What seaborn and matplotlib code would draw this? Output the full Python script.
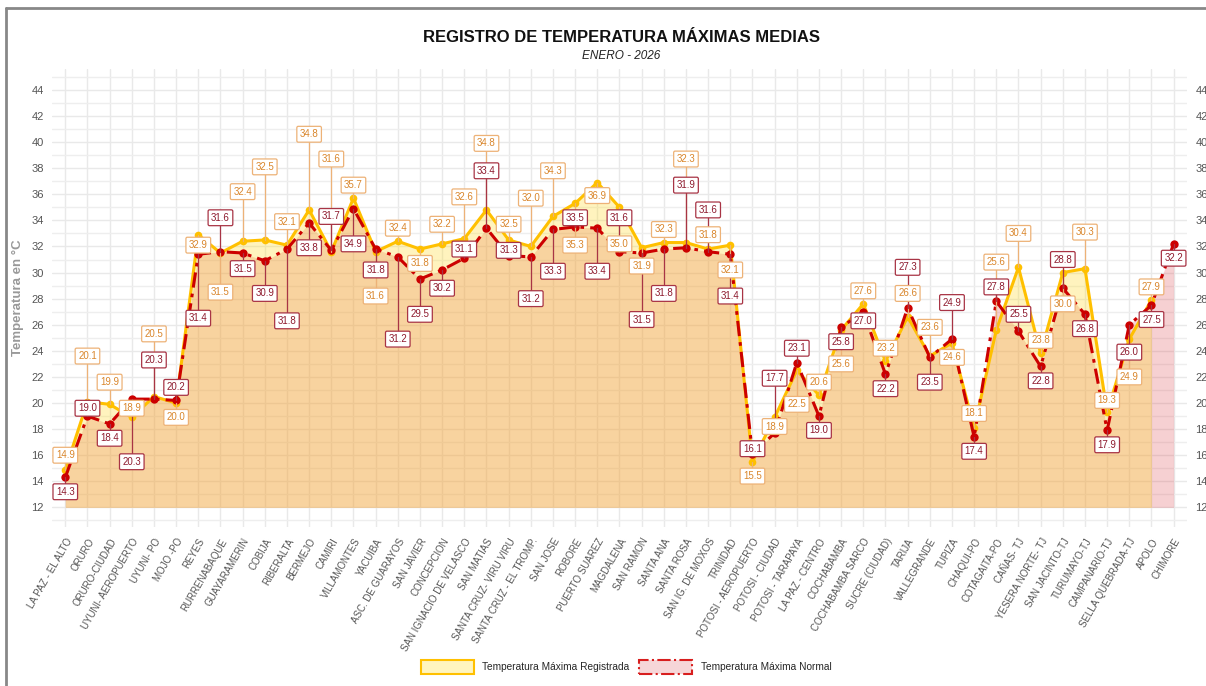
import numpy as np
import matplotlib
matplotlib.use("Agg")
import matplotlib.pyplot as plt
from matplotlib.lines import Line2D
from matplotlib.patches import Patch
from matplotlib.ticker import MultipleLocator
import seaborn as sns

# --- DATA ---
stations = [
    "LA PAZ - EL ALTO", "ORURO", "ORURO-CIUDAD", "UYUNI- AEROPUERTO", "UYUNI- PO",
    "MOJO -PO", "REYES", "RURRENABAQUE", "GUAYARAMERIN", "COBIJA", "RIBERALTA",
    "BERMEJO", "CAMIRI", "VILLAMONTES", "YACUIBA", "ASC. DE GUARAYOS", "SAN JAVIER",
    "CONCEPCION", "SAN IGNACIO DE VELASCO", "SAN MATIAS", "SANTA CRUZ- VIRU VIRU",
    "SANTA CRUZ - EL TROMP.", "SAN JOSE", "ROBORE", "PUERTO SUAREZ", "MAGDALENA",
    "SAN RAMON", "SANTA ANA", "SANTA ROSA", "SAN IG. DE MOXOS", "TRINIDAD",
    "POTOSI - AEROPUERTO", "POTOSI - CIUDAD", "POTOSI - TARAPAYA", "LA PAZ - CENTRO",
    "COCHABAMBA", "COCHABAMBA SARCO", "SUCRE (CIUDAD)", "TARIJA", "VALLEGRANDE",
    "TUPIZA", "CHAQUI-PO", "COTAGAITA-PO", "CAÑAS- TJ", "YESERA NORTE- TJ",
    "SAN JACINTO-TJ", "TURUMAYO-TJ", "CAMPANARIO-TJ", "SELLA QUEBRADA-TJ", "APOLO",
    "CHIMORE",
]
registrada = [
    14.9, 20.1, 19.9, 18.9, 20.5, 20.0, 32.9, 31.5, 32.4, 32.5, 32.1, 34.8, 31.6,
    35.7, 31.6, 32.4, 31.8, 32.2, 32.6, 34.8, 32.5, 32.0, 34.3, 35.3, 36.9, 35.0,
    31.9, 32.3, 32.3, 31.8, 32.1, 15.5, 18.9, 22.5, 20.6, 25.6, 27.6, 23.2, 26.6,
    23.6, 24.6, 18.1, 25.6, 30.4, 23.8, 30.0, 30.3, 19.3, 24.9, 27.9, np.nan,
]
normal = [
    14.3, 19.0, 18.4, 20.3, 20.3, 20.2, 31.4, 31.6, 31.5, 30.9, 31.8, 33.8, 31.7,
    34.9, 31.8, 31.2, 29.5, 30.2, 31.1, 33.4, 31.3, 31.2, 33.3, 33.5, 33.4, 31.6,
    31.5, 31.8, 31.9, 31.6, 31.4, 16.1, 17.7, 23.1, 19.0, 25.8, 27.0, 22.2, 27.3,
    23.5, 24.9, 17.4, 27.8, 25.5, 22.8, 28.8, 26.8, 17.9, 26.0, 27.5, 32.2,
]

# label placement (offset from the point, in degrees)
off_reg = [
    1.1, 3.5, 1.7, 0.7, 4.8, -1.1, -0.8, -3.0, 3.8, 5.6, 1.8, 5.8, 7.1, 1.0, -3.4,
    1.0, -1.1, 1.5, 3.2, 5.1, 1.2, 3.7, 3.5, -3.2, -1.0, -2.8, -1.4, 1.0, 6.4, 1.1,
    -1.9, -1.1, -0.7, -2.6, 1.0, -2.6, 1.0, 1.0, 1.8, 2.2, -1.1, 1.1, 5.2, 2.6,
    1.0, -2.4, 2.8, 0.9, -2.9, 1.0, 0.0,
]
off_norm = [
    -1.1, 0.6, -1.1, -4.8, 3.0, 1.0, -4.9, 2.6, -1.2, -2.5, -5.5, -1.9, 2.6, -2.7,
    -1.6, -6.3, -2.7, -1.4, 0.7, 4.4, 0.4, -3.2, -3.2, 0.7, -3.3, 2.6, -5.1, -3.4,
    4.8, 3.2, -3.2, 0.4, 4.2, 1.1, -1.1, -1.1, -0.7, -1.1, 3.1, -1.9, 2.8, -1.1,
    1.1, 1.3, -1.1, 2.2, -1.1, -1.1, -2.1, -1.1, -1.1,
]

# --- STYLE ---
sns.set_theme(style="whitegrid")
plt.rcParams["font.family"] = ["Liberation Sans", "DejaVu Sans"]

GOLD = "#FFC000"
RED = "#CC0000"
x = np.arange(len(stations))
reg = np.array(registrada, dtype=float)
nor = np.array(normal, dtype=float)

fig = plt.figure(figsize=(12.06, 6.86), dpi=100)
ax = fig.add_axes([0.0431, 0.2318, 0.9411, 0.6676])

# areas
ax.fill_between(x, 12, nor, color=(0.86, 0.24, 0.27), alpha=0.24, lw=0, zorder=1)
ax.fill_between(x, 12, reg, color=(1.0, 0.86, 0.18), alpha=0.31, lw=0, zorder=1.1)

# lines
sns.lineplot(x=x, y=reg, ax=ax, color=GOLD, lw=2.2, marker="o", markersize=5.5,
             markeredgewidth=0, zorder=3)
sns.lineplot(x=x, y=nor, ax=ax, color=RED, lw=2.2, marker="o", markersize=6,
             markeredgewidth=0, linestyle=(0, (5, 2, 1.2, 2)), zorder=3.2)

# value labels with leader lines
def put_labels(vals, offs, txt_col, edge_col):
    for xi, v, o in zip(x, vals, offs):
        if np.isnan(v):
            continue
        ly = v + o
        ax.plot([xi, xi], [v, ly], color=edge_col, lw=0.9, zorder=4)
        ax.text(xi, ly, f"{v:.1f}", ha="center", va="center", fontsize=7,
                color=txt_col, zorder=6,
                bbox=dict(boxstyle="round,pad=0.3,rounding_size=0.15",
                          fc="white", ec=edge_col, lw=0.9))

put_labels(reg, off_reg, "#D9862C", "#EDB277")
put_labels(nor, off_norm, "#8E1B2E", "#A83445")

# axes
ax.set_xlim(-0.6, len(stations) - 0.4)
ax.set_ylim(10.5, 45.6)
ax.set_xticks(x)
ax.set_xticklabels(stations, rotation=60, ha="right", rotation_mode="anchor",
                   fontsize=7, color="#555555")
ax.yaxis.set_major_locator(MultipleLocator(2))
ax.yaxis.set_minor_locator(MultipleLocator(1))
ax.set_yticks(np.arange(12, 45, 2))
ax.tick_params(axis="y", labelsize=8, labelcolor="#555555", labelright=True,
               length=0, pad=6)
ax.tick_params(axis="x", length=0, pad=7)
ax.grid(True, which="major", color="#e9e9e9", lw=1)
ax.grid(True, which="minor", axis="y", color="#eeeeee", lw=1)
ax.set_axisbelow(True)
for s in ax.spines.values():
    s.set_visible(False)
ax.set_xlabel("")
ax.set_ylabel("")

fig.text(0.0149, 0.566, "Temperatura en °C", rotation=90, ha="center",
         va="center", fontsize=9.5, color="#999999", fontweight="bold")

# titles
fig.text(0.515, 1 - 38 / 686, "REGISTRO DE TEMPERATURA MÁXIMAS MEDIAS",
         ha="center", va="center", fontsize=12, fontweight="bold", color="#111111")
fig.text(0.515, 1 - 56 / 686, "ENERO - 2026", ha="center", va="center",
         fontsize=8.5, style="italic", color="#222222")

# legend
handles = [
    Patch(facecolor="#FFF5BF", edgecolor=GOLD, lw=1.5,
          label="Temperatura Máxima Registrada"),
    Patch(facecolor="#F6D6D8", edgecolor="#D81E1E", lw=1.5, linestyle="-.",
          label="Temperatura Máxima Normal"),
]
fig.legend(handles=handles, loc="center", bbox_to_anchor=(0.519, 0.028), ncol=2,
           frameon=False, fontsize=7.3, handlelength=5.3, handleheight=1.8,
           columnspacing=0.9, handletextpad=0.8)

# outer frame
fig.add_artist(Line2D([6 / 1206, 1], [1 - 8 / 686, 1 - 8 / 686], color="#888888", lw=2))
fig.add_artist(Line2D([6 / 1206, 6 / 1206], [0, 1 - 8 / 686], color="#888888", lw=2))

fig.savefig("out.png", dpi=100)
